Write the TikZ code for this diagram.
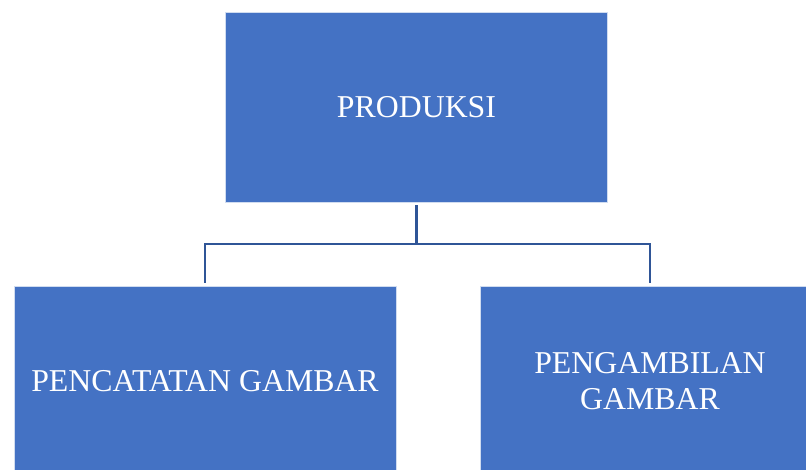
\documentclass[tikz,border=0pt]{standalone}
\usepackage{fontspec}
\setmainfont{Liberation Serif}
\definecolor{boxblue}{HTML}{4472C4}
\definecolor{lineblue}{HTML}{2F5597}
\begin{document}
\begin{tikzpicture}[x=1pt,y=-1pt,
  orgbox/.style={rectangle, fill=boxblue, draw=white!75!boxblue, line width=0.6pt,
    text=white, align=center, inner sep=0pt,
    font=\fontsize{31.8}{35.5}\selectfont},
  link/.style={draw=lineblue, line width=2.6pt}]
\clip (0,0) rectangle (806,469);
\fill[white] (0,0) rectangle (806,469);
\node[orgbox, minimum width=382pt, minimum height=190pt] (top) at (416.5,107) {PRODUKSI};
\node[orgbox, minimum width=382pt, minimum height=190pt] (left) at (205,381) {PENCATATAN GAMBAR};
\node[orgbox, minimum width=340pt, minimum height=190pt] (right) at (650,381) {PENGAMBILAN\\GAMBAR};
\coordinate (mid) at (416.5,244);
\draw[link] ([yshift=-3pt]top.south) -- (mid);
\draw[link] (mid) -| ([yshift=3pt]left.north -| 205,0);
\draw[link] (mid) -| ([yshift=3pt]right.north);
\end{tikzpicture}
\end{document}
